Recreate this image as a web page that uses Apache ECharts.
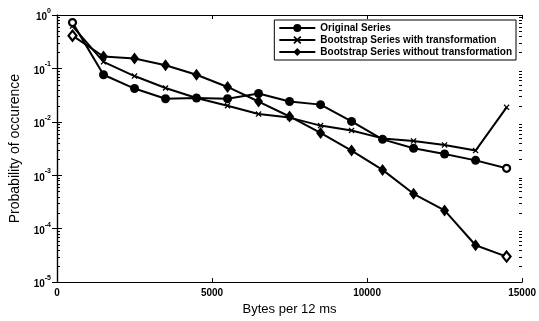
<!DOCTYPE html>
<html><head><meta charset="utf-8">
<script src="https://cdn.jsdelivr.net/npm/echarts@6/dist/echarts.min.js"></script>
<style>html,body{margin:0;padding:0;background:#fff}#c{width:539px;height:321px}</style>
</head><body><div id="c"></div>
<script>
const xValues = [500,1500,2500,3500,4500,5500,6500,7500,8500,9500,10500,11500,12500,13500,14500];
const originalSeries = [0.72,0.076,0.042,0.027,0.028,0.027,0.034,0.024,0.021,0.0102,0.0047,0.0032,0.0025,0.0019,0.00135];
const withTransformation = [0.62,0.133,0.072,0.043,0.028,0.020,0.014,0.012,0.0085,0.0069,0.0049,0.0044,0.0037,0.0029,0.0187];
const withoutTransformation = [0.41,0.167,0.153,0.115,0.076,0.045,0.024,0.0126,0.0062,0.0029,0.00126,0.00045,0.00022,0.000049,0.000030];
const seriesNames = ['Original Series','Bootstrap Series with transformation','Bootstrap Series without transformation'];
const xTicks = [0,5000,10000,15000];
const yExponents = [0,-1,-2,-3,-4,-5];
const minorMantissas = [2,3,4,5,6,7,8,9];
const axisEdges = [0,15000];

const FONT = '"Liberation Sans", Arial, sans-serif';
const openOriginal = [0,14];
const openDiamond = [0,14];
function pts(vals, openIdx, openSize){
  return vals.map((v,i)=>{
    const d = {value:[xValues[i], v]};
    if (openIdx.indexOf(i)>=0) { d.itemStyle = {color:'#fff', borderColor:'#000', borderWidth:2.2}; d.symbolSize = openSize; }
    return d;
  });
}
const minorTickVals = [];
axisEdges.forEach((xe,k)=>yExponents.slice(1).forEach(e=>minorMantissas.forEach(m=>minorTickVals.push([xe, m*Math.pow(10,e), k===0?1:-1]))));

const xSym = 'path://M0,1.5L1.5,0L5,3.5L8.5,0L10,1.5L6.5,5L10,8.5L8.5,10L5,6.5L1.5,10L0,8.5L3.5,5Z';
const chart = echarts.init(document.getElementById('c'), null, {renderer:'canvas'});
const axisLineS = {show:true, lineStyle:{color:'#000', width:1.2}};
chart.setOption({
  animation:false,
  backgroundColor:'#fff',
  grid:{left:53, right:12, top:15, bottom:34, containLabel:false},
  legend:{
    show:true, top:20, right:23, orient:'vertical', itemGap:2,
    itemWidth:36, itemHeight:10,
    backgroundColor:'#fff', borderColor:'#000', borderWidth:1,
    padding:[3,4,3,4],
    textStyle:{fontFamily:FONT, fontSize:10, color:'#000', fontWeight:'bold'},
    data: seriesNames
  },
  xAxis:[{
    type:'value', min:0, max:15000, interval:5000, position:'bottom',
    axisLine:axisLineS,
    axisTick:{show:true, inside:true, length:4, lineStyle:{color:'#000'}},
    axisLabel:{fontFamily:FONT, fontSize:10, color:'#000', margin:6, fontWeight:'bold',
      formatter:v=> xTicks.indexOf(v)>=0 ? String(v) : ''},
    splitLine:{show:false},
    name:'Bytes per 12 ms', nameLocation:'middle', nameGap:18,
    nameTextStyle:{fontFamily:FONT, fontSize:13, color:'#000'}
  },{
    type:'value', min:0, max:15000, interval:5000, position:'top',
    axisLine:axisLineS, axisTick:{show:true, inside:true, length:4, lineStyle:{color:'#000'}},
    axisLabel:{show:false}, splitLine:{show:false}
  }],
  yAxis:[{
    type:'log', logBase:10, min:1e-5, max:1,
    axisLine:axisLineS,
    axisTick:{show:true, inside:true, length:5, lineStyle:{color:'#000'}},
    minorTick:{show:false},
    axisLabel:{fontFamily:FONT, color:'#000', margin:6,
      formatter:v=>{const e=Math.round(Math.log10(v)); return yExponents.indexOf(e)>=0 ? '{b|10}{s|'+e+'}' : '';},
      rich:{b:{fontFamily:FONT, fontSize:10, fontWeight:'bold', color:'#000', padding:[5,0,0,0]},
            s:{fontFamily:FONT, fontSize:7, fontWeight:'bold', color:'#000', verticalAlign:'top', padding:[0,0,4,0]}}},
    splitLine:{show:false},
    name:'Probability of occurence', nameLocation:'middle', nameGap:35, nameRotate:90,
    nameTextStyle:{fontFamily:FONT, fontSize:14, color:'#000'}
  },{
    type:'log', logBase:10, min:1e-5, max:1, position:'right',
    axisLine:axisLineS, axisTick:{show:true, inside:true, length:5, lineStyle:{color:'#000'}},
    axisLabel:{show:false}, splitLine:{show:false}
  }],
  series:[
    {name:seriesNames[0], type:'line', data:pts(originalSeries, openOriginal, 7), symbol:'circle', symbolSize:9,
     lineStyle:{color:'#000', width:2}, itemStyle:{color:'#000'}, showAllSymbol:true, z:3},
    {name:seriesNames[1], type:'line', data:pts(withTransformation, [], 6), symbol:xSym, symbolSize:6,
     lineStyle:{color:'#000', width:2}, itemStyle:{color:'#000'}, showAllSymbol:true, z:2},
    {name:seriesNames[2], type:'line', data:pts(withoutTransformation, openDiamond, [8,10]), symbol:'diamond', symbolSize:[9,12],
     lineStyle:{color:'#000', width:2}, itemStyle:{color:'#000'}, showAllSymbol:true, z:1},
    {type:'custom', silent:true, clip:false, z:5, data:minorTickVals,
     encode:{x:0, y:1},
     renderItem:(params, api)=>{
       const p = api.coord([api.value(0), api.value(1)]);
       const dir = api.value(2);
       const x0 = Math.round(p[0]);
       const y0 = Math.round(p[1]);
       return {type:'rect', shape:{x: dir>0 ? x0 : x0-3, y:y0, width:3, height:1}, style:{fill:'#000'}};
     }}
  ]
});
</script></body></html>
